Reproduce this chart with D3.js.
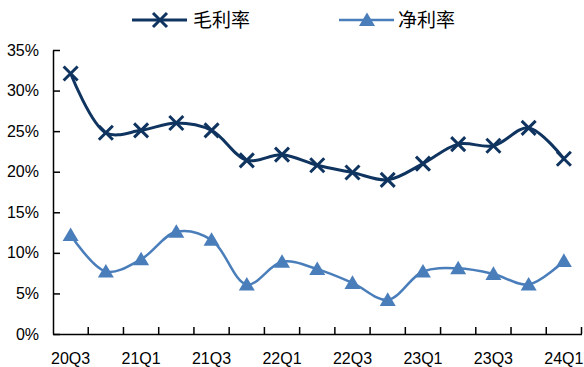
<!DOCTYPE html>
<html><head><meta charset="utf-8">
<script src="https://cdn.jsdelivr.net/npm/d3@7"></script>
<style>html,body{margin:0;padding:0;background:#fff;}</style>
</head><body>
<svg id="c" width="584" height="367"></svg>
<script>
const categories = ["20Q3","20Q4","21Q1","21Q2","21Q3","21Q4","22Q1","22Q2","22Q3","22Q4","23Q1","23Q2","23Q3","23Q4","24Q1"];
const grossMargin = [32.1,24.8,25.1,26.0,25.1,21.4,22.1,20.8,19.9,19.0,21.0,23.4,23.2,25.4,21.6];
const netMargin = [12.2,7.7,9.2,12.6,11.6,6.1,8.9,8.0,6.3,4.2,7.7,8.1,7.4,6.1,9.0];
const yTicks = [0,5,10,15,20,25,30,35];
const xLabels = ["20Q3","21Q1","21Q3","22Q1","22Q3","23Q1","23Q3","24Q1"];
const seriesNames = ["毛利率","净利率"];

const svg = d3.select("#c");
const fontNum = "'Liberation Sans Narrow','Arial Narrow','Liberation Sans',Arial,sans-serif";
const fontCJK = "'Noto Sans CJK SC','Noto Sans',sans-serif";
const cGross = "#0f3460", cNet = "#4a7ebb";

const x = d3.scaleBand().domain(categories).range([53, 581.5]);
const y = d3.scaleLinear().domain([0,35]).range([334, 50]);

// y axis
const ya = svg.append("g").attr("transform","translate(53,0)")
  .call(d3.axisLeft(y).tickValues(yTicks).tickFormat(d=>d+"%").tickSizeInner(-7).tickSizeOuter(0).tickPadding(14));
ya.select(".domain").attr("stroke","#000").attr("stroke-width",1.5);
ya.selectAll(".tick line").attr("stroke","#000").attr("stroke-width",1.5);
ya.selectAll("text").attr("font-family",fontNum).attr("font-size",16).attr("fill","#000");

// x axis
const xa = svg.append("g").attr("transform","translate(0,334)")
  .call(d3.axisBottom(x).tickValues([]).tickSizeOuter(0));
xa.select(".domain").attr("stroke","#000").attr("stroke-width",1.5);
xa.selectAll(".bt").data(categories).enter().append("line")
  .attr("x1",d=>x(d)+x.bandwidth()).attr("x2",d=>x(d)+x.bandwidth())
  .attr("y1",0).attr("y2",-7).attr("stroke","#000").attr("stroke-width",1.5);
xa.selectAll(".lbl").data(xLabels).enter().append("text")
  .attr("x",d=>x(d)+x.bandwidth()/2).attr("y",30)
  .attr("text-anchor","middle").attr("font-family",fontNum).attr("font-size",16).attr("fill","#000")
  .text(d=>d);

const cx = d => x(d) + x.bandwidth()/2;
const line = d3.line().curve(d3.curveCatmullRom.alpha(0.5));

svg.append("path").attr("d", line(categories.map((c,i)=>[cx(c), y(grossMargin[i])])))
  .attr("fill","none").attr("stroke",cGross).attr("stroke-width",3);
svg.append("path").attr("d", line(categories.map((c,i)=>[cx(c), y(netMargin[i])])))
  .attr("fill","none").attr("stroke",cNet).attr("stroke-width",2.5);

function xMark(g, px, py, s, col){
  g.append("path").attr("d",`M${px-s},${py-s}L${px+s},${py+s}M${px-s},${py+s}L${px+s},${py-s}`)
    .attr("stroke",col).attr("stroke-width",3).attr("fill","none");
}
function triMark(g, px, py, s, col){
  g.append("path").attr("d",`M${px},${py-s*0.95}L${px+s},${py+s*0.75}L${px-s},${py+s*0.75}Z`)
    .attr("fill",col);
}
const gm = svg.append("g");
categories.forEach((c,i)=>{ xMark(gm, cx(c), y(grossMargin[i]), 7, cGross); });
categories.forEach((c,i)=>{ triMark(gm, cx(c), y(netMargin[i]), 8, cNet); });

// legend
const lg = svg.append("g");
lg.append("line").attr("x1",132).attr("x2",187).attr("y1",20).attr("y2",20).attr("stroke",cGross).attr("stroke-width",3);
xMark(lg, 160, 20, 7, cGross);
lg.append("text").attr("x",193).attr("y",27).attr("font-family",fontCJK).attr("font-size",19).attr("fill","#000").text(seriesNames[0]);
lg.append("line").attr("x1",339).attr("x2",394).attr("y1",20).attr("y2",20).attr("stroke",cNet).attr("stroke-width",2.5);
triMark(lg, 367, 20, 8, cNet);
lg.append("text").attr("x",398).attr("y",27).attr("font-family",fontCJK).attr("font-size",19).attr("fill","#000").text(seriesNames[1]);
</script>
</body></html>
